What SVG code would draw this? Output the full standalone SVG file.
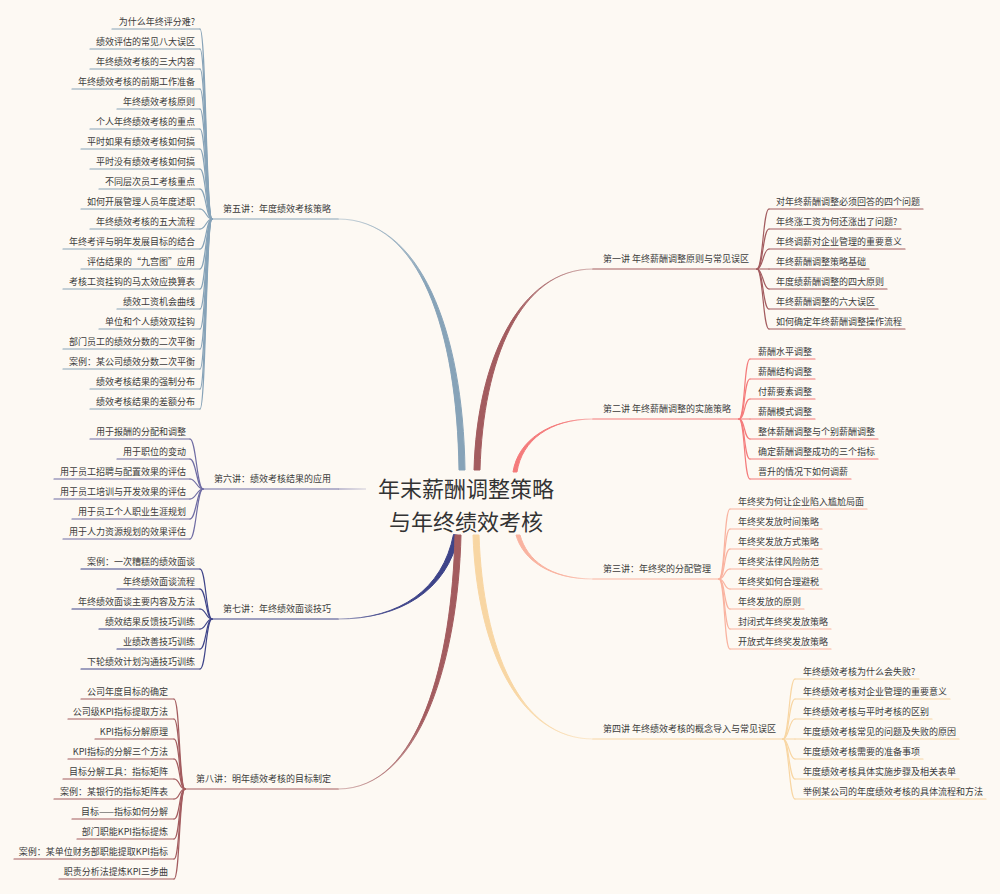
<svg xmlns="http://www.w3.org/2000/svg" width="1000" height="894" viewBox="0 0 1000 894">
<style>
.t{font-family:"Noto Sans CJK SC","Liberation Sans",sans-serif;font-size:9px;fill:#3b3b3b}
.e{text-anchor:end}
.title{font-family:"Noto Sans CJK SC","Liberation Sans",sans-serif;font-size:22px;fill:#333;text-anchor:middle}
.ln{fill:none;stroke-width:1.2;stroke-linecap:round}
.c1{stroke:#a35c5f}.c2{stroke:#f47b7b}.c3{stroke:#f9b3a0}.c4{stroke:#f8d6a3}
.c5{stroke:#87a3b8}.c6{stroke:#6f6ca3}.c7{stroke:#3e4489}.c8{stroke:#a35c5f}
</style>
<defs>
<linearGradient id="g1" gradientUnits="userSpaceOnUse" x1="593" y1="269" x2="477" y2="470"><stop offset="0" stop-color="#a35c5f" stop-opacity="0.25"/><stop offset="0.35" stop-color="#a35c5f"/><stop offset="1" stop-color="#a35c5f"/></linearGradient>
<linearGradient id="g2" gradientUnits="userSpaceOnUse" x1="593" y1="419" x2="515" y2="472"><stop offset="0" stop-color="#f47b7b" stop-opacity="0.25"/><stop offset="0.4" stop-color="#f47b7b"/><stop offset="1" stop-color="#f47b7b"/></linearGradient>
<linearGradient id="g3" gradientUnits="userSpaceOnUse" x1="593" y1="579" x2="518" y2="535"><stop offset="0" stop-color="#f9b3a0" stop-opacity="0.25"/><stop offset="0.4" stop-color="#f9b3a0"/><stop offset="1" stop-color="#f9b3a0"/></linearGradient>
<linearGradient id="g4" gradientUnits="userSpaceOnUse" x1="593" y1="739" x2="476" y2="535"><stop offset="0" stop-color="#f8d6a3" stop-opacity="0.25"/><stop offset="0.35" stop-color="#f8d6a3"/><stop offset="1" stop-color="#f8d6a3"/></linearGradient>
<linearGradient id="g5" gradientUnits="userSpaceOnUse" x1="338" y1="219" x2="462" y2="470"><stop offset="0" stop-color="#87a3b8" stop-opacity="0.25"/><stop offset="0.35" stop-color="#87a3b8"/><stop offset="1" stop-color="#87a3b8"/></linearGradient>
<linearGradient id="g6" gradientUnits="userSpaceOnUse" x1="338" y1="489" x2="366" y2="489"><stop offset="0" stop-color="#6f6ca3" stop-opacity="0.7"/><stop offset="1" stop-color="#6f6ca3" stop-opacity="0.25"/></linearGradient>
<linearGradient id="g7" gradientUnits="userSpaceOnUse" x1="338" y1="619" x2="456" y2="535"><stop offset="0" stop-color="#3e4489" stop-opacity="0.25"/><stop offset="0.4" stop-color="#3e4489"/><stop offset="1" stop-color="#3e4489"/></linearGradient>
<linearGradient id="g8" gradientUnits="userSpaceOnUse" x1="338" y1="789" x2="458" y2="535"><stop offset="0" stop-color="#a35c5f" stop-opacity="0.25"/><stop offset="0.35" stop-color="#a35c5f"/><stop offset="1" stop-color="#a35c5f"/></linearGradient>
</defs>
<rect width="1000" height="894" fill="#fdf9f3"/>

<g id="connectors">
<path d="M593,269 C520,269 483,360 480,470 L474,470 C477,360 520,269 593,269 Z" fill="url(#g1)" stroke="url(#g1)" stroke-width="1"/>
<path d="M593,419 C550,419 522,440 517,472 L513,472 C518,440 550,419 593,419 Z" fill="url(#g2)" stroke="url(#g2)" stroke-width="1"/>
<path d="M593,579 C550,579 527,560 520,535 L516,535 C523,560 550,579 593,579 Z" fill="url(#g3)" stroke="url(#g3)" stroke-width="1"/>
<path d="M593,739 C520,739 483,650 479,535 L473,535 C477,650 520,739 593,739 Z" fill="url(#g4)" stroke="url(#g4)" stroke-width="1"/>
<path d="M338,219 C420,219 463,330 465,470 L459,470 C457,330 420,219 338,219 Z" fill="url(#g5)" stroke="url(#g5)" stroke-width="1"/>
<path d="M338,489 L366,489" fill="none" stroke="url(#g6)" stroke-width="1.2"/>
<path d="M338,619 C400,619 447.5,590.5 458.5,535.5 L453.5,534.5 C442.5,589.5 400,619 338,619 Z" fill="url(#g7)" stroke="url(#g7)" stroke-width="1"/>
<path d="M338,789 C420,789 458,660 461,535 L455,535 C452,660 420,789 338,789 Z" fill="url(#g8)" stroke="url(#g8)" stroke-width="1"/>
<path class="ln c1" d="M593,269 H757"/>
<path class="ln c2" d="M593,419 H739"/>
<path class="ln c3" d="M593,579 H719"/>
<path class="ln c4" d="M593,739 H783"/>
<path class="ln c5" d="M212,219 H338"/>
<path class="ln c6" d="M203,489 H338"/>
<path class="ln c7" d="M212,619 H338"/>
<path class="ln c8" d="M185,789 H338"/>
<g class="ln c1">
<path d="M757,269 C763,269 763,209 769,209"/><path d="M757,269 C763,269 763,229 769,229"/><path d="M757,269 C763,269 763,249 769,249"/><path d="M757,269 H769"/><path d="M757,269 C763,269 763,289 769,289"/><path d="M757,269 C763,269 763,309 769,309"/><path d="M757,269 C763,269 763,329 769,329"/>
</g>
<g class="ln c2">
<path d="M739,419 C745,419 744,359 750,359"/><path d="M739,419 C745,419 744,379 750,379"/><path d="M739,419 C745,419 744,399 750,399"/><path d="M739,419 H750"/><path d="M739,419 C745,419 744,439 750,439"/><path d="M739,419 C745,419 744,459 750,459"/><path d="M739,419 C745,419 744,479 750,479"/>
</g>
<g class="ln c3">
<path d="M719,579 C725,579 724,509 730,509"/><path d="M719,579 C725,579 724,529 730,529"/><path d="M719,579 C725,579 724,549 730,549"/><path d="M719,579 C725,579 724,569 730,569"/><path d="M719,579 C725,579 724,589 730,589"/><path d="M719,579 C725,579 724,609 730,609"/><path d="M719,579 C725,579 724,629 730,629"/><path d="M719,579 C725,579 724,649 730,649"/>
</g>
<g class="ln c4">
<path d="M783,739 C789,739 789,679 795,679"/><path d="M783,739 C789,739 789,699 795,699"/><path d="M783,739 C789,739 789,719 795,719"/><path d="M783,739 H795"/><path d="M783,739 C789,739 789,759 795,759"/><path d="M783,739 C789,739 789,779 795,779"/><path d="M783,739 C789,739 789,799 795,799"/>
</g>
<g class="ln c5">
<path d="M212,219 C206,219 206,29 200,29"/><path d="M212,219 C206,219 206,49 200,49"/><path d="M212,219 C206,219 206,69 200,69"/><path d="M212,219 C206,219 206,89 200,89"/><path d="M212,219 C206,219 206,109 200,109"/><path d="M212,219 C206,219 206,129 200,129"/><path d="M212,219 C206,219 206,149 200,149"/><path d="M212,219 C206,219 206,169 200,169"/><path d="M212,219 C206,219 206,189 200,189"/><path d="M212,219 C206,219 206,209 200,209"/><path d="M212,219 C206,219 206,229 200,229"/><path d="M212,219 C206,219 206,249 200,249"/><path d="M212,219 C206,219 206,269 200,269"/><path d="M212,219 C206,219 206,289 200,289"/><path d="M212,219 C206,219 206,309 200,309"/><path d="M212,219 C206,219 206,329 200,329"/><path d="M212,219 C206,219 206,349 200,349"/><path d="M212,219 C206,219 206,369 200,369"/><path d="M212,219 C206,219 206,389 200,389"/><path d="M212,219 C206,219 206,409 200,409"/>
</g>
<g class="ln c6">
<path d="M203,489 C197,489 196,439 190,439"/><path d="M203,489 C197,489 196,459 190,459"/><path d="M203,489 C197,489 196,479 190,479"/><path d="M203,489 C197,489 196,499 190,499"/><path d="M203,489 C197,489 196,519 190,519"/><path d="M203,489 C197,489 196,539 190,539"/>
</g>
<g class="ln c7">
<path d="M212,619 C206,619 206,569 200,569"/><path d="M212,619 C206,619 206,589 200,589"/><path d="M212,619 C206,619 206,609 200,609"/><path d="M212,619 C206,619 206,629 200,629"/><path d="M212,619 C206,619 206,649 200,649"/><path d="M212,619 C206,619 206,669 200,669"/>
</g>
<g class="ln c8">
<path d="M185,789 C179,789 180,699 174,699"/><path d="M185,789 C179,789 180,719 174,719"/><path d="M185,789 C179,789 180,739 174,739"/><path d="M185,789 C179,789 180,759 174,759"/><path d="M185,789 C179,789 180,779 174,779"/><path d="M185,789 C179,789 180,799 174,799"/><path d="M185,789 C179,789 180,819 174,819"/><path d="M185,789 C179,789 180,839 174,839"/><path d="M185,789 C179,789 180,859 174,859"/><path d="M185,789 C179,789 180,879 174,879"/>
</g>
</g>

<g id="center"><text class="title"><tspan x="466" y="497">年末薪酬调整策略</tspan><tspan x="466" y="530">与年终绩效考核</tspan></text></g>

<g id="lec1"><text class="t" x="603" y="262.4">第一讲 年终薪酬调整原则与常见误区</text></g>
<g id="lec2"><text class="t" x="603" y="412.4">第二讲 年终薪酬调整的实施策略</text></g>
<g id="lec3"><text class="t" x="603" y="572.4">第三讲：年终奖的分配管理</text></g>
<g id="lec4"><text class="t" x="603" y="732.4">第四讲 年终绩效考核的概念导入与常见误区</text></g>
<g id="lec5"><text class="t e" x="331" y="212.4">第五讲：年度绩效考核策略</text></g>
<g id="lec6"><text class="t e" x="331" y="482.4">第六讲：绩效考核结果的应用</text></g>
<g id="lec7"><text class="t e" x="331" y="612.4">第七讲：年终绩效面谈技巧</text></g>
<g id="lec8"><text class="t e" x="331" y="782.4">第八讲：明年绩效考核的目标制定</text></g>

<g id="n1-1"><path class="ln c1" d="M769,209 H923"/><text class="t" x="776" y="204.8">对年终薪酬调整必须回答的四个问题</text></g>
<g id="n1-2"><path class="ln c1" d="M769,229 H901"/><text class="t" x="776" y="224.8">年终涨工资为何还涨出了问题?</text></g>
<g id="n1-3"><path class="ln c1" d="M769,249 H905"/><text class="t" x="776" y="244.8">年终调薪对企业管理的重要意义</text></g>
<g id="n1-4"><path class="ln c1" d="M769,269 H869"/><text class="t" x="776" y="264.8">年终薪酬调整策略基础</text></g>
<g id="n1-5"><path class="ln c1" d="M769,289 H887"/><text class="t" x="776" y="284.8">年度绩薪酬调整的四大原则</text></g>
<g id="n1-6"><path class="ln c1" d="M769,309 H878"/><text class="t" x="776" y="304.8">年终薪酬调整的六大误区</text></g>
<g id="n1-7"><path class="ln c1" d="M769,329 H905"/><text class="t" x="776" y="324.8">如何确定年终薪酬调整操作流程</text></g>

<g id="n2-1"><path class="ln c2" d="M750,359 H815"/><text class="t" x="758" y="354.8">薪酬水平调整</text></g>
<g id="n2-2"><path class="ln c2" d="M750,379 H815"/><text class="t" x="758" y="374.8">薪酬结构调整</text></g>
<g id="n2-3"><path class="ln c2" d="M750,399 H815"/><text class="t" x="758" y="394.8">付薪要素调整</text></g>
<g id="n2-4"><path class="ln c2" d="M750,419 H815"/><text class="t" x="758" y="414.8">薪酬模式调整</text></g>
<g id="n2-5"><path class="ln c2" d="M750,439 H878"/><text class="t" x="758" y="434.8">整体薪酬调整与个别薪酬调整</text></g>
<g id="n2-6"><path class="ln c2" d="M750,459 H878"/><text class="t" x="758" y="454.8">确定薪酬调整成功的三个指标</text></g>
<g id="n2-7"><path class="ln c2" d="M750,479 H851"/><text class="t" x="758" y="474.8">晋升的情况下如何调薪</text></g>

<g id="n3-1"><path class="ln c3" d="M730,509 H867"/><text class="t" x="738" y="504.8">年终奖为何让企业陷入尴尬局面</text></g>
<g id="n3-2"><path class="ln c3" d="M730,529 H822"/><text class="t" x="738" y="524.8">年终奖发放时间策略</text></g>
<g id="n3-3"><path class="ln c3" d="M730,549 H822"/><text class="t" x="738" y="544.8">年终奖发放方式策略</text></g>
<g id="n3-4"><path class="ln c3" d="M730,569 H822"/><text class="t" x="738" y="564.8">年终奖法律风险防范</text></g>
<g id="n3-5"><path class="ln c3" d="M730,589 H822"/><text class="t" x="738" y="584.8">年终奖如何合理避税</text></g>
<g id="n3-6"><path class="ln c3" d="M730,609 H804"/><text class="t" x="738" y="604.8">年终发放的原则</text></g>
<g id="n3-7"><path class="ln c3" d="M730,629 H831"/><text class="t" x="738" y="624.8">封闭式年终奖发放策略</text></g>
<g id="n3-8"><path class="ln c3" d="M730,649 H831"/><text class="t" x="738" y="644.8">开放式年终奖发放策略</text></g>

<g id="n4-1"><path class="ln c4" d="M795,679 H919"/><text class="t" x="803" y="674.8">年终绩效考核为什么会失败?</text></g>
<g id="n4-2"><path class="ln c4" d="M795,699 H950"/><text class="t" x="803" y="694.8">年终绩效考核对企业管理的重要意义</text></g>
<g id="n4-3"><path class="ln c4" d="M795,719 H932"/><text class="t" x="803" y="714.8">年终绩效考核与平时考核的区别</text></g>
<g id="n4-4"><path class="ln c4" d="M795,739 H959"/><text class="t" x="803" y="734.8">年度绩效考核常见的问题及失败的原因</text></g>
<g id="n4-5"><path class="ln c4" d="M795,759 H923"/><text class="t" x="803" y="754.8">年度绩效考核需要的准备事项</text></g>
<g id="n4-6"><path class="ln c4" d="M795,779 H959"/><text class="t" x="803" y="774.8">年度绩效考核具体实施步骤及相关表单</text></g>
<g id="n4-7"><path class="ln c4" d="M795,799 H986"/><text class="t" x="803" y="794.8">举例某公司的年度绩效考核的具体流程和方法</text></g>

<g id="n5-1"><path class="ln c5" d="M112,29 H200"/><text class="t e" x="195" y="24.8">为什么年终评分难?</text></g>
<g id="n5-2"><path class="ln c5" d="M90,49 H200"/><text class="t e" x="195" y="44.8">绩效评估的常见八大误区</text></g>
<g id="n5-3"><path class="ln c5" d="M90,69 H200"/><text class="t e" x="195" y="64.8">年终绩效考核的三大内容</text></g>
<g id="n5-4"><path class="ln c5" d="M72,89 H200"/><text class="t e" x="195" y="84.8">年终绩效考核的前期工作准备</text></g>
<g id="n5-5"><path class="ln c5" d="M117,109 H200"/><text class="t e" x="195" y="104.8">年终绩效考核原则</text></g>
<g id="n5-6"><path class="ln c5" d="M90,129 H200"/><text class="t e" x="195" y="124.8">个人年终绩效考核的重点</text></g>
<g id="n5-7"><path class="ln c5" d="M81,149 H200"/><text class="t e" x="195" y="144.8">平时如果有绩效考核如何搞</text></g>
<g id="n5-8"><path class="ln c5" d="M90,169 H200"/><text class="t e" x="195" y="164.8">平时没有绩效考核如何搞</text></g>
<g id="n5-9"><path class="ln c5" d="M99,189 H200"/><text class="t e" x="195" y="184.8">不同层次员工考核重点</text></g>
<g id="n5-10"><path class="ln c5" d="M81,209 H200"/><text class="t e" x="195" y="204.8">如何开展管理人员年度述职</text></g>
<g id="n5-11"><path class="ln c5" d="M90,229 H200"/><text class="t e" x="195" y="224.8">年终绩效考核的五大流程</text></g>
<g id="n5-12"><path class="ln c5" d="M63,249 H200"/><text class="t e" x="195" y="244.8">年终考评与明年发展目标的结合</text></g>
<g id="n5-13"><path class="ln c5" d="M81,269 H200"/><text class="t e" x="195" y="264.8">评估结果的“九宫图”应用</text></g>
<g id="n5-14"><path class="ln c5" d="M63,289 H200"/><text class="t e" x="195" y="284.8">考核工资挂钩的马太效应换算表</text></g>
<g id="n5-15"><path class="ln c5" d="M117,309 H200"/><text class="t e" x="195" y="304.8">绩效工资机会曲线</text></g>
<g id="n5-16"><path class="ln c5" d="M99,329 H200"/><text class="t e" x="195" y="324.8">单位和个人绩效双挂钩</text></g>
<g id="n5-17"><path class="ln c5" d="M63,349 H200"/><text class="t e" x="195" y="344.8">部门员工的绩效分数的二次平衡</text></g>
<g id="n5-18"><path class="ln c5" d="M63,369 H200"/><text class="t e" x="195" y="364.8">案例：某公司绩效分数二次平衡</text></g>
<g id="n5-19"><path class="ln c5" d="M90,389 H200"/><text class="t e" x="195" y="384.8">绩效考核结果的强制分布</text></g>
<g id="n5-20"><path class="ln c5" d="M90,409 H200"/><text class="t e" x="195" y="404.8">绩效考核结果的差额分布</text></g>

<g id="n6-1"><path class="ln c6" d="M90,439 H190"/><text class="t e" x="186" y="434.8">用于报酬的分配和调整</text></g>
<g id="n6-2"><path class="ln c6" d="M117,459 H190"/><text class="t e" x="186" y="454.8">用于职位的变动</text></g>
<g id="n6-3"><path class="ln c6" d="M54,479 H190"/><text class="t e" x="186" y="474.8">用于员工招聘与配置效果的评估</text></g>
<g id="n6-4"><path class="ln c6" d="M54,499 H190"/><text class="t e" x="186" y="494.8">用于员工培训与开发效果的评估</text></g>
<g id="n6-5"><path class="ln c6" d="M72,519 H190"/><text class="t e" x="186" y="514.8">用于员工个人职业生涯规划</text></g>
<g id="n6-6"><path class="ln c6" d="M63,539 H190"/><text class="t e" x="186" y="534.8">用于人力资源规划的效果评估</text></g>

<g id="n7-1"><path class="ln c7" d="M81,569 H200"/><text class="t e" x="195" y="564.8">案例：一次糟糕的绩效面谈</text></g>
<g id="n7-2"><path class="ln c7" d="M117,589 H200"/><text class="t e" x="195" y="584.8">年终绩效面谈流程</text></g>
<g id="n7-3"><path class="ln c7" d="M72,609 H200"/><text class="t e" x="195" y="604.8">年终绩效面谈主要内容及方法</text></g>
<g id="n7-4"><path class="ln c7" d="M99,629 H200"/><text class="t e" x="195" y="624.8">绩效结果反馈技巧训练</text></g>
<g id="n7-5"><path class="ln c7" d="M117,649 H200"/><text class="t e" x="195" y="644.8">业绩改善技巧训练</text></g>
<g id="n7-6"><path class="ln c7" d="M81,669 H200"/><text class="t e" x="195" y="664.8">下轮绩效计划沟通技巧训练</text></g>

<g id="n8-1"><path class="ln c8" d="M81,699 H174"/><text class="t e" x="168" y="694.8">公司年度目标的确定</text></g>
<g id="n8-2"><path class="ln c8" d="M68,719 H174"/><text class="t e" x="168" y="714.8">公司级KPI指标提取方法</text></g>
<g id="n8-3"><path class="ln c8" d="M95,739 H174"/><text class="t e" x="168" y="734.8">KPI指标分解原理</text></g>
<g id="n8-4"><path class="ln c8" d="M68,759 H174"/><text class="t e" x="168" y="754.8">KPI指标的分解三个方法</text></g>
<g id="n8-5"><path class="ln c8" d="M63,779 H174"/><text class="t e" x="168" y="774.8">目标分解工具：指标矩阵</text></g>
<g id="n8-6"><path class="ln c8" d="M54,799 H174"/><text class="t e" x="168" y="794.8">案例：某银行的指标矩阵表</text></g>
<g id="n8-7"><path class="ln c8" d="M72,819 H174"/><text class="t e" x="168" y="814.8">目标——指标如何分解</text></g>
<g id="n8-8"><path class="ln c8" d="M77,839 H174"/><text class="t e" x="168" y="834.8">部门职能KPI指标提炼</text></g>
<g id="n8-9"><path class="ln c8" d="M14,859 H174"/><text class="t e" x="168" y="854.8">案例：某单位财务部职能提取KPI指标</text></g>
<g id="n8-10"><path class="ln c8" d="M59,879 H174"/><text class="t e" x="168" y="874.8">职责分析法提炼KPI三步曲</text></g>
</svg>
